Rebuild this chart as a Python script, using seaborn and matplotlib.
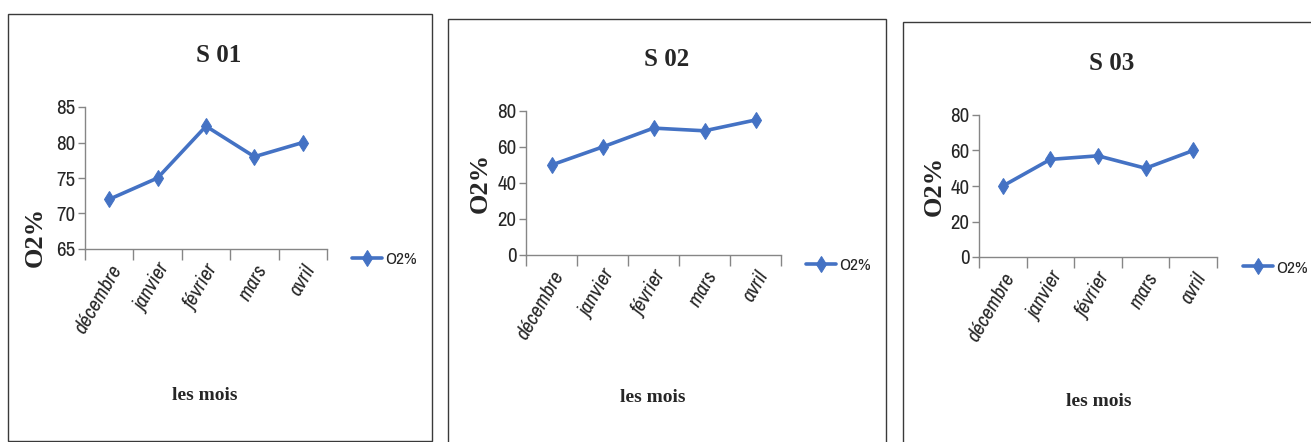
import matplotlib
matplotlib.use("Agg")
import matplotlib.pyplot as plt
import matplotlib.font_manager as fm
import pandas as pd
import seaborn as sns
from matplotlib.patches import Rectangle
from matplotlib.ticker import FixedLocator, NullFormatter

# ---- data ----
months = ["décembre", "janvier", "février", "mars", "avril"]
titles = ["S 01", "S 02", "S 03"]
o2_s01 = [72, 75, 82.3, 78, 80]
o2_s02 = [50, 60, 70.5, 69, 75]
o2_s03 = [40, 55, 57, 50, 60]
series_name = "O2%"
y_label = "O2%"
x_label = "les mois"
ylims = [(65, 85), (0, 80), (0, 80)]
yticks = [[65, 70, 75, 80, 85], [0, 20, 40, 60, 80], [0, 20, 40, 60, 80]]

sns.set_style("white")

# prefer a condensed sans-serif for the axis text when one is installed
narrow = None
for f in fm.fontManager.ttflist:
    if ("Narrow" in f.name or "Condensed" in f.name) and f.style == "normal":
        narrow = f.name
        break
has_italic = narrow is not None and any(
    f.name == narrow and f.style in ("italic", "oblique") for f in fm.fontManager.ttflist)
sans = [narrow, "Liberation Sans", "DejaVu Sans"] if narrow else ["Liberation Sans", "DejaVu Sans"]
italic_family = sans if has_italic else ["Liberation Sans", "DejaVu Sans"]
plt.rcParams["font.family"] = sans
serif = ["Liberation Serif", "DejaVu Serif"]
tick_size = 15 if narrow else 13
xtick_size = 15 if has_italic else 13
legend_size = 12.5 if narrow else 11

W, H = 1311, 442
fig = plt.figure(figsize=(W / 100, H / 100), dpi=100)
fig.patch.set_facecolor("white")


def fx(px):
    return px / W


def fy(py):
    return 1 - py / H


# layout of each panel in pixels
panels = [
    dict(frame=(8, 14, 432, 441), axes=(85, 107, 327, 249), title=(219, 55),
         xlab=(205, 395), ylab=(35, 237), leg=(352, 259)),
    dict(frame=(448, 19, 886, 446), axes=(526, 111, 781, 255), title=(667, 60),
         xlab=(653, 398), ylab=(480, 183), leg=(806, 265)),
    dict(frame=(903, 22, 1316, 446), axes=(979, 115, 1217, 257), title=(1112, 63),
         xlab=(1099, 402), ylab=(934, 186), leg=(1243, 268)),
]
values = [o2_s01, o2_s02, o2_s03]

line_color = "#4472C4"
axis_color = "#868686"

for p, vals, title, ylim, yt in zip(panels, values, titles, ylims, yticks):
    x0, y0, x1, y1 = p["frame"]
    fig.add_artist(Rectangle((fx(x0), fy(y1)), fx(x1 - x0), (y1 - y0) / H,
                             transform=fig.transFigure, fill=False,
                             edgecolor="#3a3a3a", linewidth=1.0))

    l, t, r, b = p["axes"]
    ax = fig.add_axes([fx(l), fy(b), fx(r - l), (b - t) / H])
    df = pd.DataFrame({"mois": range(len(months)), "o2": vals, "serie": series_name})
    sns.lineplot(data=df, x="mois", y="o2", hue="serie", palette=[line_color],
                 marker="d", markersize=8.5, markeredgecolor=line_color,
                 linewidth=2.6, ax=ax, legend=True)

    ax.set_xlim(-0.5, len(months) - 0.5)
    ax.set_ylim(*ylim)
    ax.set_yticks(yt)
    ax.set_yticklabels([str(v) for v in yt], fontsize=tick_size)
    ax.tick_params(axis="y", direction="out", length=5, width=1, color=axis_color,
                   pad=2, left=True)

    # boundary tick marks between categories, labels at category centres
    ax.xaxis.set_major_locator(FixedLocator([i - 0.5 for i in range(len(months) + 1)]))
    ax.xaxis.set_major_formatter(NullFormatter())
    ax.xaxis.set_minor_locator(FixedLocator(list(range(len(months)))))
    ax.set_xticklabels(months, minor=True, fontsize=xtick_size, style="italic",
                       family=italic_family, rotation=60, ha="right",
                       rotation_mode="anchor")
    ax.tick_params(axis="x", which="major", direction="out", length=8, width=1,
                   color=axis_color, bottom=True)
    ax.tick_params(axis="x", which="minor", length=0, pad=9, bottom=True)

    for side in ("top", "right"):
        ax.spines[side].set_visible(False)
    for side in ("left", "bottom"):
        ax.spines[side].set_color(axis_color)
        ax.spines[side].set_linewidth(1)
    ax.set_xlabel("")
    ax.set_ylabel("")
    ax.patch.set_alpha(0)

    handles, labels = ax.get_legend_handles_labels()
    lx, ly = p["leg"]
    ax.legend(handles, labels, loc="center left",
              bbox_to_anchor=(fx(lx), fy(ly)), bbox_transform=fig.transFigure,
              frameon=False, borderpad=0, borderaxespad=0, handlelength=1.75,
              handletextpad=0.15, fontsize=legend_size)

    tx, ty = p["title"]
    fig.text(fx(tx), fy(ty), title, ha="center", va="center", fontsize=18,
             fontweight="bold", family=serif)
    xx, xy = p["xlab"]
    fig.text(fx(xx), fy(xy), x_label, ha="center", va="center", fontsize=14,
             fontweight="bold", family=serif)
    yx, yy = p["ylab"]
    fig.text(fx(yx), fy(yy), y_label, ha="center", va="center", fontsize=19,
             fontweight="bold", family=serif, rotation=90)

fig.savefig("out.png", dpi=100, facecolor="white")
